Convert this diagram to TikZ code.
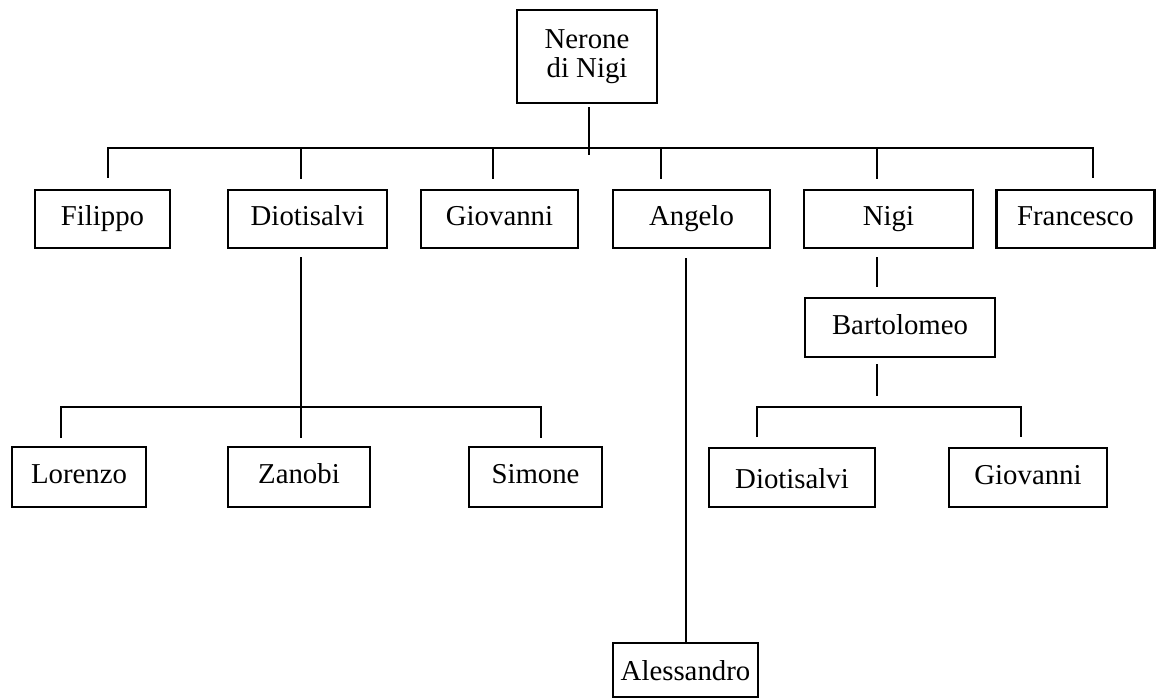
\documentclass[tikz,border=0pt]{standalone}
\usepackage{fontspec}
\setmainfont{Liberation Serif}
\begin{document}
\begin{tikzpicture}[x=0.5pt,y=-0.5pt,
  box/.style={draw, line width=1.3pt, inner sep=0pt, align=center,
    font=\fontsize{14.4}{14.5}\selectfont},
  pbox/.style={box, text height=10pt, text depth=3.5pt},
  lowbox/.style={box, text height=12pt, text depth=1.5pt},
  link/.style={line width=1pt}]
\useasboundingbox (0,0) rectangle (1156,698);

% generation 1
\node[box, minimum width=70pt, minimum height=46.5pt] (nerone) at (587,56.5) {Nerone\\di Nigi};

% generation 2
\node[pbox, minimum width=67.5pt, minimum height=29pt] (filippo) at (102.5,219) {Filippo};
\node[pbox, minimum width=79.5pt, minimum height=29pt] (diot) at (307.5,219) {Diotisalvi};
\node[pbox, minimum width=78.5pt, minimum height=29pt] (giov) at (499.5,219) {Giovanni};
\node[pbox, minimum width=78.5pt, minimum height=29pt] (angelo) at (691.5,219) {Angelo};
\node[pbox, minimum width=84.5pt, minimum height=29pt] (nigi) at (888.5,219) {Nigi};
\node[pbox, minimum width=79pt, minimum height=29pt] (franc) at (1075.5,219) {Francesco};

% generation 3
\node[pbox, minimum width=95pt, minimum height=29.5pt] (bart) at (900,327.5) {Bartolomeo};
\node[pbox, minimum width=67pt, minimum height=30pt] (lorenzo) at (79,477) {Lorenzo};
\node[pbox, minimum width=71pt, minimum height=30pt] (zanobi) at (299,477) {Zanobi};
\node[pbox, minimum width=66.5pt, minimum height=30pt] (simone) at (535.5,477) {Simone};

% generation 4
\node[lowbox, minimum width=83pt, minimum height=29.5pt] (diot2) at (792,477.5) {Diotisalvi};
\node[pbox, minimum width=79pt, minimum height=29.5pt] (giov2) at (1028,477.5) {Giovanni};
\node[lowbox, minimum width=72.5pt, minimum height=27pt] (aless) at (685.5,670) {Alessandro};

% sons of Nerone
\coordinate (busL) at (108,148);
\coordinate (busR) at (1093,148);
\draw[link] (nerone.south) ++(2,3) -- ++(0,48);
\draw[link] (busL |- filippo.north) ++(0,-11) -- (busL) -- (busR) -- ([yshift=5.5pt]busR |- franc.north);
\foreach \x in {301,493,661,877}
  \draw[link] (\x,148) -- ([yshift=5.5pt]\x,190);

% sons of Diotisalvi
\coordinate (dbusL) at (61,407);
\coordinate (dbusR) at (541,407);
\draw[link] (301,257) -- (301,438);
\draw[link] (61,438) -- (dbusL) -- (dbusR) -- (541,438);

% son of Angelo
\draw[link] ([yshift=-4.5pt]aless.north |- angelo.south) -- (aless.north);

% Nigi's line
\draw[link] (877,257) -- (877,287);
\coordinate (nbusL) at (757,407);
\coordinate (nbusR) at (1021,407);
\draw[link] (877,364) -- (877,396);
\draw[link] (757,437) -- (nbusL) -- (nbusR) -- (1021,437);
\end{tikzpicture}
\end{document}
